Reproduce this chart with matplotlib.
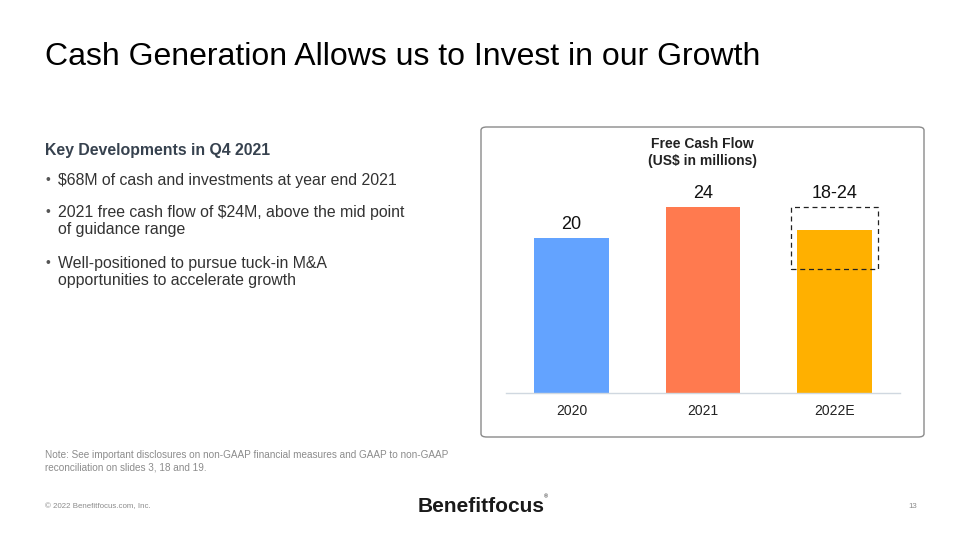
import matplotlib.pyplot as plt
from matplotlib.patches import FancyBboxPatch, Rectangle

plt.rcParams["font.family"] = ["Liberation Sans", "DejaVu Sans"]

# Chart data
years = ["2020", "2021", "2022E"]
fcf = [20, 24, 21]
labels = ["20", "24", "18-24"]
colors = ["#63A3FF", "#FF7A4F", "#FFB000"]
guide_low, guide_high = 16, 24   # dashed guidance box (as drawn)

# Slide text
title = "Cash Generation Allows us to Invest in our Growth"
heading = "Key Developments in Q4 2021"
bullets = [
    "$68M of cash and investments at year end 2021",
    "2021 free cash flow of $24M, above the mid point\nof guidance range",
    "Well-positioned to pursue tuck-in M&A\nopportunities to accelerate growth",
]
note = ("Note: See important disclosures on non-GAAP financial measures and GAAP to non-GAAP\n"
        "reconciliation on slides 3, 18 and 19.")

W, H = 960, 540
fig = plt.figure(figsize=(9.6, 5.4), dpi=100)
fig.patch.set_facecolor("white")


def fx(px):
    return px / W


def fy(py):
    return 1 - py / H


fig.text(fx(45), fy(57), title, fontsize=23, color="black", va="center", ha="left")

fig.text(fx(45), fy(151), heading, fontsize=11.4, fontweight="bold", color="#37424f",
         va="center")
bullet_y = [173, 205, 256]
for b, y in zip(bullets, bullet_y):
    fig.text(fx(45), fy(y), "•", fontsize=10, color="#555555", va="top")
    fig.text(fx(58), fy(y), b, fontsize=11.4, color="#333333", va="top", linespacing=1.2)

fig.text(fx(45), fy(450.5), note, fontsize=7.2, color="#8c8c8c", va="top", linespacing=1.2)
fig.text(fx(45), fy(507), "© 2022 Benefitfocus.com, Inc.", fontsize=5.7, color="#8c8c8c",
         va="center")
fig.text(fx(917), fy(507), "13", fontsize=5.7, color="#8c8c8c", va="center", ha="right")
fig.text(fx(481), fy(507), "Benefitfocus", fontsize=15, fontweight="bold", color="#1a1a1a",
         va="center", ha="center")
fig.text(fx(546), fy(497), "®", fontsize=4, color="#1a1a1a", va="center", ha="center")

# Chart panel
panel = FancyBboxPatch((fx(481), fy(437)), fx(924) - fx(481), fy(127) - fy(437),
                       boxstyle="round,pad=0,rounding_size=0.006",
                       transform=fig.transFigure, facecolor="white",
                       edgecolor="#8a8a8a", linewidth=1.0, zorder=-1)
fig.patches.append(panel)

fig.text(fx(702), fy(152.5), "Free Cash Flow\n(US$ in millions)", fontsize=10,
         fontweight="bold", color="#222222", ha="center", va="center", linespacing=1.35)

ax = fig.add_axes([fx(506), fy(393), fx(900) - fx(506), fy(160.5) - fy(393)])
ax.set_zorder(2)
ax.set_facecolor("none")
x = range(len(years))
ax.bar(x, fcf, width=0.57, color=colors, zorder=2)
for i, (v, lab) in enumerate(zip(fcf, labels)):
    top = guide_high if i == 2 else v
    ax.text(i, top + 0.7, lab, ha="center", va="bottom", fontsize=13, color="#111111")

box = Rectangle((2 - 0.33, guide_low), 0.66, guide_high - guide_low, fill=False,
                edgecolor="#222222", linestyle=(0, (4, 3)), linewidth=0.9, zorder=3)
ax.add_patch(box)

ax.set_xlim(-0.5, 2.5)
ax.set_ylim(0, 30)
ax.set_xticks(list(x))
ax.set_xticklabels(years, fontsize=10, color="#222222")
ax.tick_params(axis="x", length=0, pad=8)
ax.set_yticks([])
for s in ["top", "right", "left"]:
    ax.spines[s].set_visible(False)
ax.spines["bottom"].set_color("#d0d8e0")
ax.spines["bottom"].set_linewidth(1)

fig.savefig("out.png", dpi=100, facecolor="white")
